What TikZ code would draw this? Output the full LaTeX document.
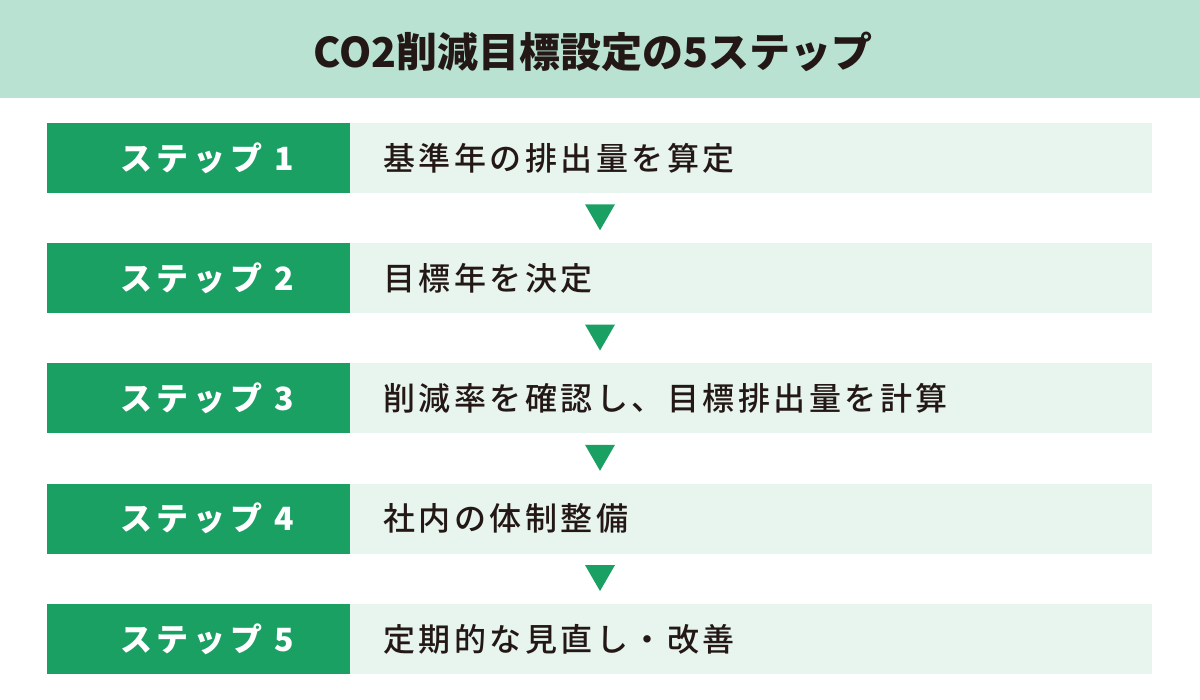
\documentclass[tikz,border=0pt]{standalone}
\usepackage{fontspec}
\setmainfont{Noto Sans CJK JP}
\newfontfamily\jpmedium{Noto Sans CJK JP Medium}
\usepackage{tikz}
\usetikzlibrary{positioning,shapes.geometric}

\definecolor{bandmint}{HTML}{B9E2D3}
\definecolor{stepgreen}{HTML}{1BA064}
\definecolor{rowmint}{HTML}{E8F5EF}
\definecolor{inkdark}{HTML}{231815}

\begin{document}
\begin{tikzpicture}
  [x=1pt,y=-1pt,every node/.style={inner sep=0pt,outer sep=0pt}]

  \tikzstyle{band}     = [fill=bandmint, minimum width=1200pt, minimum height=98pt, anchor=north west]
  \tikzstyle{stepbox}  = [fill=stepgreen, minimum width=303pt, minimum height=70pt, anchor=north west]
  \tikzstyle{rowbox}   = [fill=rowmint, minimum width=802pt, minimum height=70pt]
  \tikzstyle{steptext} = [text=white, font=\fontsize{32}{36}\selectfont\bfseries\addfontfeature{LetterSpace=15}, anchor=west]
  \tikzstyle{rowtext}  = [text=inkdark, font=\fontsize{32}{36}\jpmedium\addfontfeature{LetterSpace=11}, anchor=west]
  \tikzstyle{tri}      = [regular polygon, regular polygon sides=3, shape border rotate=180,
                          fill=stepgreen, minimum size=34.6pt]

  \useasboundingbox (0,0) rectangle (1200,700);

  \node[band] (band) at (0,0) {};
  \node[text=inkdark, font=\fontsize{41}{45}\selectfont\bfseries] (title) at (593,52)
       {CO2削減目標設定の5ステップ};

  \foreach \i/\txt in {1/基準年の排出量を算定, 2/目標年を決定,
                       3/削減率を確認し、目標排出量を計算, 4/社内の体制整備,
                       5/定期的な見直し・改善} {
    \node[stepbox]                      (lab\i)  at (47,{123+120.25*(\i-1)}) {};
    \node[rowbox, right=0pt of lab\i]   (row\i)  {};
    \node[steptext, right=73pt of lab\i.west] (labt\i) {ステップ \i};
    \node[rowtext, right=33pt of row\i.west]  (rowt\i) {\txt};
  }

  \foreach \i in {1,...,4}
    \node[tri] (tri\i) at (600,{213+120.25*(\i-1)}) {};
\end{tikzpicture}
\end{document}
